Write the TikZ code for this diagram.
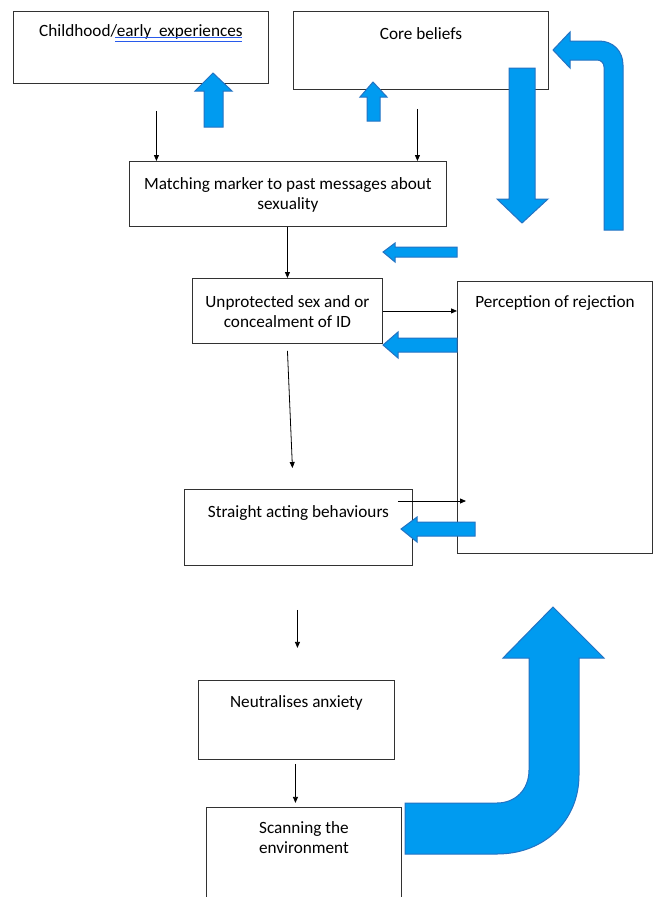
\documentclass[tikz,border=0pt]{standalone}
\usepackage{fontspec}
\setmainfont{Carlito}
\usetikzlibrary{arrows.meta,calc}
\definecolor{bluef}{RGB}{0,155,240}
\definecolor{blued}{RGB}{35,115,195}
\definecolor{boxc}{RGB}{50,50,50}
\definecolor{ulc}{RGB}{40,90,235}
\newcommand{\bt}[4]{\parbox[c][#2][t]{#1}{\centering\vspace*{#3}\strut #4}}
\begin{document}
\begin{tikzpicture}[x=1pt,y=-1pt,
  box/.style={draw=boxc, line width=0.9pt, inner sep=0pt, anchor=north west, font=\fontsize{17.2}{20.5}\selectfont},
  conn/.style={draw=black, line width=0.8pt, -{Triangle[length=6pt,width=5pt]}},
  blockarrow/.style={fill=bluef, draw=blued, line width=1pt, line join=miter}]
\useasboundingbox (0,0) rectangle (657,897);
\clip (0,0) rectangle (657,897);
\fill[white] (0,0) rectangle (657,897);

% boxes
\node[box] (child) at (13,11) {\bt{255pt}{72pt}{10.6pt}{Childhood/early~~experiences}};
\node[box] (core) at (293,11) {\bt{255pt}{78pt}{13.6pt}{Core beliefs}};
\node[box] (match) at (129,161) {\bt{317pt}{65pt}{13.6pt}{Matching marker to past messages about\\sexuality}};
\node[box] (unprot) at (192,278) {\bt{190pt}{65pt}{14.6pt}{Unprotected sex and or\\concealment of ID}};
\node[box] (percep) at (457,281) {\bt{195pt}{272pt}{11.6pt}{Perception of rejection}};
\node[box] (straight) at (184,489) {\bt{228pt}{76pt}{13.3pt}{Straight acting behaviours}};
\node[box] (neutral) at (198,680) {\bt{196pt}{79pt}{12.6pt}{Neutralises anxiety}};
\node[box] (scan) at (206,807) {\bt{195pt}{100pt}{11.6pt}{Scanning the\\environment}};

% grammar underline
\draw[ulc, line width=0.8pt] (115,37.8) -- (242,37.8);
\draw[ulc, line width=0.8pt] (115,41.3) -- (242,41.3);

% blue block arrows
\path[blockarrow] (204,127) -- (204,91) -- (195,91) -- (213,73) -- (232,91) -- (223,91) -- (223,127) -- cycle;
\path[blockarrow] (367,121) -- (367,97) -- (360,97) -- (373,82) -- (387,97) -- (380,97) -- (380,121) -- cycle;
\path[blockarrow] (509,68) -- (535,68) -- (535,199) -- (548,199) -- (522,223) -- (497,199) -- (509,199) -- cycle;
\path[blockarrow] (604,230) -- (623,230) -- (623,65) .. controls (623,51) and (613,41) .. (599,41)
  -- (570,41) -- (570,32) -- (553,50) -- (570,68) -- (570,60) -- (597,60)
  .. controls (601,60) and (604,63) .. (604,67) -- cycle;
\path[blockarrow] (457,247) -- (395,247) -- (395,243) -- (383,252) -- (395,262) -- (395,257) -- (457,257) -- cycle;
\path[blockarrow] (457,338) -- (398,338) -- (398,332) -- (383,345) -- (398,358) -- (398,352) -- (457,352) -- cycle;
\path[blockarrow] (475,522) -- (417,522) -- (417,517) -- (401,529) -- (417,542) -- (417,536) -- (475,536) -- cycle;
\path[blockarrow] (405,803) -- (497,803) .. controls (515,803) and (529,790) .. (529,770) -- (529,658)
  -- (503,658) -- (553,607) -- (604,658) -- (579,658) -- (579,775)
  .. controls (579,820) and (545,854) .. (497,854) -- (405,854) -- cycle;

% connectors
\coordinate (c1) at ($(child.south)+(15.5,27)$);
\coordinate (c2) at ($(core.south)+(-3.5,19)$);
\draw[conn] (c1) -- (c1 |- match.north);
\draw[conn] (c2) -- (c2 |- match.north);
\draw[conn] (match.south -| unprot.north) -- (unprot.north);
\draw[conn] (unprot.east) -- (unprot.east -| percep.west);
\draw[conn] ($(unprot.south)+(0,7)$) -- ($(straight.north)+(-6,-21)$);
\coordinate (s1) at ($(straight.north east)+(-15,12)$);
\draw[conn] (s1) -- ($(s1 -| percep.west)+(9,0)$);
\draw[conn] ($(straight.south)+(-1,44)$) -- ($(straight.south)+(-1,82)$);
\draw[conn] ($(neutral.south)+(-1,4)$) -- ($(neutral.south)+(-1,43)$);
\end{tikzpicture}
\end{document}
